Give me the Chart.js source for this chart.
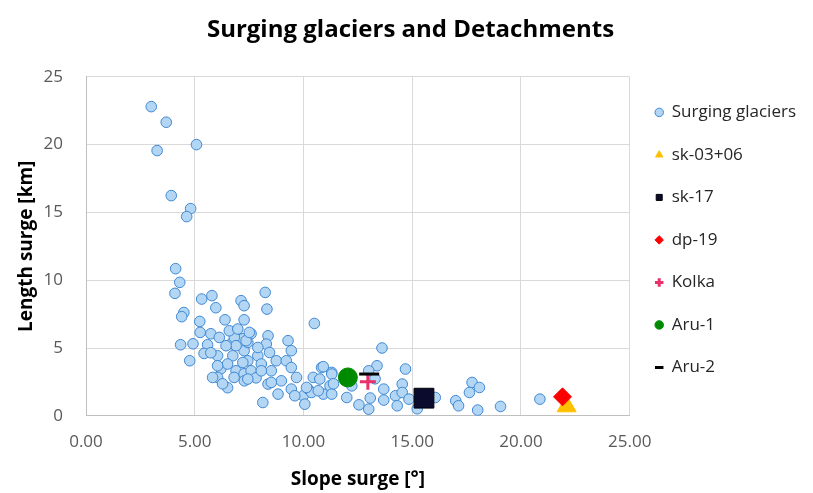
<!DOCTYPE html>
<html>
<head>
<meta charset="utf-8">
<script src="https://cdn.jsdelivr.net/npm/chart.js@4.4.1/dist/chart.umd.min.js"></script>
<style>
  html, body { margin: 0; padding: 0; background: #fff; }
  #wrap { width: 813px; height: 493px; }
</style>
</head>
<body>
<div id="wrap"><canvas id="chart"></canvas></div>
<script>
// surging glaciers
const surgeSlope = [
  3.00, 3.69, 3.27, 5.08, 3.92, 4.81, 4.63, 4.12, 4.31, 4.09,
  4.50, 4.40, 5.32, 5.79, 5.97, 6.39, 5.23, 5.25, 5.74, 4.35,
  4.92, 5.59, 4.77, 5.43, 6.05, 6.20, 6.75, 6.05, 6.51, 6.28,
  6.90, 7.13, 7.27, 7.27, 6.90, 7.21, 6.67, 7.27, 6.81, 7.27,
  5.82, 8.24, 8.32, 10.50, 7.59, 7.44, 8.37, 9.29, 9.44, 8.29,
  8.44, 7.90, 8.75, 9.21, 7.44, 8.06, 8.52, 7.59, 9.44, 9.68,
  8.98, 7.82, 7.28, 8.37, 8.83, 9.44, 9.99, 10.06, 8.13, 10.45,
  10.83, 10.75, 11.30, 11.22, 10.22, 10.91, 13.61, 13.38, 13.00, 14.69,
  14.54, 13.69, 14.23, 14.54, 13.69, 13.07, 11.99, 11.30, 13.00, 14.85,
  15.23, 16.06, 11.30, 11.38, 13.29, 17.75, 18.09, 17.63, 17.00, 17.13,
  18.01, 19.06, 20.87, 10.91, 10.37, 9.60, 10.14, 6.51, 7.36, 7.51,
  6.82, 6.90, 7.90, 8.06, 8.52, 7.44, 10.68, 6.44, 6.13, 6.59,
  6.98, 7.21, 6.05, 5.74, 12.55, 14.31, 12.22
];
const surgeLength = [
  22.80, 21.65, 19.56, 20.00, 16.24, 15.28, 14.69, 10.85, 9.84, 9.03,
  7.62, 7.31, 8.61, 8.86, 7.97, 7.08, 6.96, 6.15, 6.05, 5.24,
  5.31, 5.24, 4.06, 4.60, 4.43, 3.47, 4.43, 2.83, 2.07, 2.36,
  3.32, 8.49, 8.12, 7.08, 6.27, 5.68, 5.31, 4.80, 2.83, 3.10,
  2.83, 9.10, 7.87, 6.81, 6.05, 5.41, 5.90, 5.54, 4.80, 5.29,
  4.67, 4.43, 4.06, 4.06, 4.06, 3.82, 3.32, 3.32, 3.56, 2.83,
  2.58, 2.80, 2.58, 2.34, 1.60, 1.97, 1.48, 0.86, 0.98, 2.83,
  3.56, 2.71, 3.20, 2.21, 1.97, 1.60, 5.00, 3.69, 3.32, 3.45,
  2.34, 1.97, 1.48, 1.72, 1.16, 1.31, 1.35, 1.60, 0.49, 1.23,
  0.52, 1.35, 3.08, 2.36, 2.73, 2.46, 2.09, 1.72, 1.11, 0.74,
  0.42, 0.69, 1.23, 3.62, 1.72, 1.48, 2.09, 3.82, 5.54, 6.15,
  5.78, 5.17, 5.04, 3.32, 2.46, 2.71, 1.85, 5.17, 5.78, 6.27,
  6.40, 3.93, 3.69, 4.65, 0.81, 0.74, 2.21
];

// detachments
const detachNames = ["sk-03+06", "sk-17", "dp-19", "Kolka", "Aru-1", "Aru-2"];
const detachSlope = [22.10, 15.54, 21.91, 12.96, 12.04, 13.02];
const detachLength = [0.70, 1.30, 1.40, 2.51, 2.83, 3.08];

const xTickValues = [0, 5, 10, 15, 20, 25];
const yTickValues = [0, 5, 10, 15, 20, 25];

const FONT = "'Open Sans', 'Liberation Sans', sans-serif";

// marker look for each detachment, same order as detachNames
const detachStyles = [
  { pointStyle: "triangle", color: "#ffc000", border: "#ffc000", radius: 11, width: 1 },
  { pointStyle: "rect", color: "#0b0b2e", border: "#000000", radius: 14, width: 1 },
  { pointStyle: "rectRot", color: "#ff0000", border: "#ff0000", radius: 9, width: 1 },
  { pointStyle: "cross", color: "#e8306b", border: "#e8306b", radius: 8, width: 3 },
  { pointStyle: "circle", color: "#008a00", border: "#008a00", radius: 9.5, width: 1 },
  { pointStyle: "line", color: "#000000", border: "#000000", radius: 10, width: 3 }
];

const datasets = [{
  label: "Surging glaciers",
  data: surgeSlope.map((x, i) => ({ x: x, y: surgeLength[i] })),
  pointStyle: "circle",
  pointRadius: 5.3,
  backgroundColor: "#b3d6f4",
  borderColor: "#3f88d2",
  pointBorderWidth: 1,
  order: 10
}]

detachNames.forEach((name, i) => {
  const s = detachStyles[i]
  datasets.push({
    label: name,
    data: [{ x: detachSlope[i], y: detachLength[i] }],
    pointStyle: s.pointStyle,
    pointRadius: s.radius,
    backgroundColor: s.color,
    borderColor: s.border,
    pointBorderWidth: s.width,
    borderWidth: s.width,
    clip: false,
    order: 9 - i
  })
})

new Chart(document.getElementById("chart"), {
  type: "scatter",
  data: { datasets: datasets },
  options: {
    responsive: true,
    maintainAspectRatio: false,
    animation: false,
    layout: { padding: { left: 15, right: 7, top: 8, bottom: 2 } },
    plugins: {
      title: {
        display: true,
        text: "Surging glaciers and Detachments",
        color: "#000000",
        font: { family: FONT, size: 24, weight: "bold" },
        padding: { top: 8, bottom: 32 }
      },
      legend: {
        position: "right",
        align: "start",
        // empty title only pushes the column down to where the reference has it
        title: { display: true, text: " ", font: { family: FONT, size: 17 }, padding: { top: 25, bottom: 25 } },
        labels: {
          usePointStyle: true,
          boxWidth: 8,
          boxHeight: 6,
          padding: 25.5,
          color: "#262626",
          font: { family: FONT, size: 17 },
          sort: (a, b) => a.datasetIndex - b.datasetIndex
        }
      },
      tooltip: { enabled: false }
    },
    scales: {
      x: {
        type: "linear",
        min: 0,
        max: 25,
        afterBuildTicks: (axis) => { axis.ticks = xTickValues.map(v => ({ value: v })) },
        ticks: {
          color: "#595959",
          font: { family: FONT, size: 17 },
          padding: 16,
          callback: (v) => Number(v).toFixed(2)
        },
        grid: { color: "#d9d9d9", drawTicks: false },
        border: { color: "#bfbfbf" },
        title: {
          display: true,
          text: "Slope surge [°]",
          color: "#000000",
          font: { family: FONT, size: 19, weight: "bold" },
          padding: { top: 0, bottom: 0 }
        }
      },
      y: {
        min: 0,
        max: 25,
        afterBuildTicks: (axis) => { axis.ticks = yTickValues.map(v => ({ value: v })) },
        afterFit: (scale) => { scale.width = 71 },
        ticks: {
          color: "#595959",
          font: { family: FONT, size: 17 },
          padding: 23
        },
        grid: { color: "#d9d9d9", drawTicks: false },
        border: { color: "#bfbfbf" },
        title: {
          display: true,
          text: "Length surge [km]",
          color: "#000000",
          font: { family: FONT, size: 19, weight: "bold" },
          padding: { top: 0, bottom: 0 }
        }
      }
    }
  }
})
</script>
</body>
</html>
